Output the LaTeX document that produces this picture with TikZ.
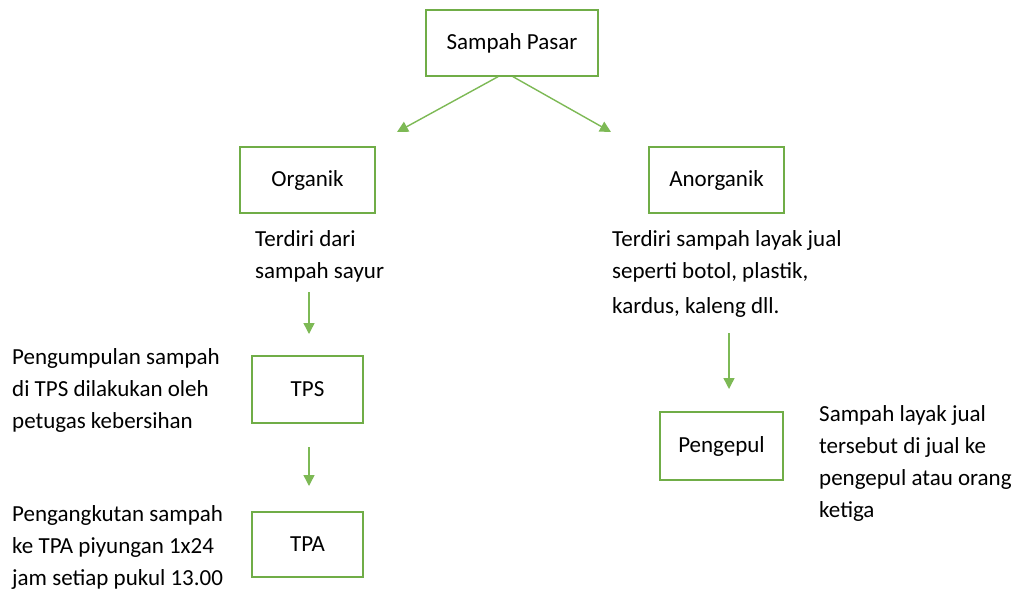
\documentclass[tikz,border=0pt]{standalone}
\usepackage{fontspec}
\setmainfont{Carlito}
\usetikzlibrary{arrows.meta}
\definecolor{grn}{HTML}{70AD47}
\definecolor{grnl}{HTML}{7DB955}
\begin{document}
\begin{tikzpicture}[x=1pt,y=-1pt,
  box/.style={draw=grn,line width=1.4pt,minimum width=#1,minimum height=66pt,inner sep=0pt,font=\fontsize{23}{30}\selectfont},
  box/.default=135pt,
  desc/.style={anchor=west,align=left,inner sep=0pt,font=\fontsize{23}{32}\selectfont},
  arr/.style={draw=grnl,line width=1.4pt,-{Triangle[length=11pt,width=11pt]}}]
\useasboundingbox (0,0) rectangle (1016,590);
\node[box=172pt] (pasar) at (512,43) {Sampah Pasar};
\node[box] (org) at (307.5,180) {Organik};
\node[box] (anorg) at (716.5,180) {Anorganik};
\node[box=111pt,minimum height=67pt] (tps) at (307.5,389.5) {TPS};
\node[box=111pt,minimum height=65pt] (tpa) at (307.5,544.5) {TPA};
\node[box=123pt,minimum height=68pt] (pengepul) at (721.5,446) {Pengepul};

\node[desc] (orgtxt) at (255,256.5) {Terdiri dari\\sampah sayur};
\node[desc] (anorgtxt) at (612,274) {Terdiri sampah layak jual\\seperti botol, plastik,\\[3pt]kardus, kaleng dll.};
\node[desc] (tpstxt) at (12,390) {Pengumpulan sampah\\di TPS dilakukan oleh\\petugas kebersihan};
\node[desc] (tpatxt) at (12,547) {Pengangkutan sampah\\ke TPA piyungan 1x24\\jam setiap pukul 13.00};
\node[desc] (peptxt) at (819,463.5) {Sampah layak jual\\tersebut di jual ke\\pengepul atau orang\\ketiga};

\coordinate (lt) at (397,132);
\coordinate (rt) at (611,132);
\draw[arr] (pasar.south -| 498,0) -- (lt);
\draw[arr] (pasar.south -| 513,0) -- (rt);

\coordinate (o1) at (309,292);
\coordinate (o2) at (309,334);
\draw[arr] (o1) -- (o2);
\coordinate (t1) at (309,447);
\coordinate (t2) at (309,486);
\draw[arr] (t1) -- (t2);
\coordinate (a1) at (729,333);
\coordinate (a2) at (729,389);
\draw[arr] (a1) -- (a2);
\end{tikzpicture}
\end{document}
